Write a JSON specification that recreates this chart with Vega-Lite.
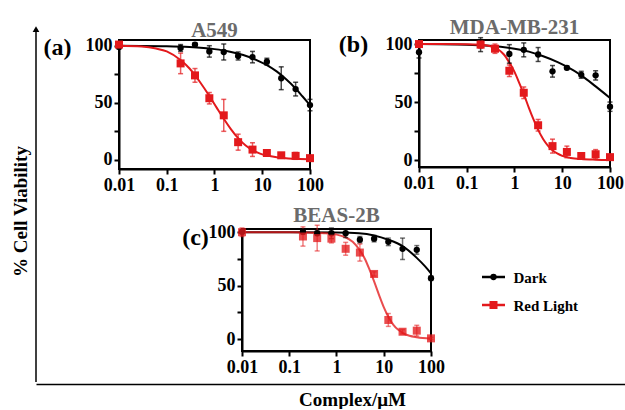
{
 "$schema": "https://vega.github.io/schema/vega-lite/v6.json",
 "padding": {"left": 11, "top": 16, "right": 0, "bottom": 0},
 "autosize": {"type": "pad"},
 "background": "white",
 "datasets": {
  "points": [
   {"cell":"A549","series":"Dark","conc":0.01,"v":99,"err":2},
   {"cell":"A549","series":"Dark","conc":0.195,"v":98,"err":3},
   {"cell":"A549","series":"Dark","conc":0.39,"v":101,"err":1.5},
   {"cell":"A549","series":"Dark","conc":0.78,"v":95,"err":5},
   {"cell":"A549","series":"Dark","conc":1.5625,"v":94.5,"err":7},
   {"cell":"A549","series":"Dark","conc":3.125,"v":91,"err":3.5},
   {"cell":"A549","series":"Dark","conc":6.25,"v":90,"err":5},
   {"cell":"A549","series":"Dark","conc":12.5,"v":86,"err":3},
   {"cell":"A549","series":"Dark","conc":25,"v":71.5,"err":10},
   {"cell":"A549","series":"Dark","conc":50,"v":62,"err":6},
   {"cell":"A549","series":"Dark","conc":100,"v":48,"err":5},
   {"cell":"A549","series":"Red Light","conc":0.01,"v":101,"err":1},
   {"cell":"A549","series":"Red Light","conc":0.195,"v":84.5,"err":9},
   {"cell":"A549","series":"Red Light","conc":0.39,"v":74,"err":6},
   {"cell":"A549","series":"Red Light","conc":0.78,"v":54,"err":5},
   {"cell":"A549","series":"Red Light","conc":1.5625,"v":39,"err":14},
   {"cell":"A549","series":"Red Light","conc":3.125,"v":15.5,"err":7},
   {"cell":"A549","series":"Red Light","conc":6.25,"v":9,"err":6},
   {"cell":"A549","series":"Red Light","conc":12.5,"v":6,"err":1.5},
   {"cell":"A549","series":"Red Light","conc":25,"v":4,"err":1.5},
   {"cell":"A549","series":"Red Light","conc":50,"v":3.5,"err":3},
   {"cell":"A549","series":"Red Light","conc":100,"v":1.5,"err":2},
   {"cell":"MDA","series":"Dark","conc":0.01,"v":93,"err":5},
   {"cell":"MDA","series":"Dark","conc":0.195,"v":99.5,"err":6},
   {"cell":"MDA","series":"Dark","conc":0.39,"v":96,"err":2},
   {"cell":"MDA","series":"Dark","conc":0.78,"v":91.5,"err":8},
   {"cell":"MDA","series":"Dark","conc":1.5625,"v":95,"err":6},
   {"cell":"MDA","series":"Dark","conc":3.125,"v":91,"err":6},
   {"cell":"MDA","series":"Dark","conc":6.25,"v":76.5,"err":5},
   {"cell":"MDA","series":"Dark","conc":12.5,"v":79.5,"err":1.5},
   {"cell":"MDA","series":"Dark","conc":25,"v":73.5,"err":3},
   {"cell":"MDA","series":"Dark","conc":50,"v":73,"err":4},
   {"cell":"MDA","series":"Dark","conc":100,"v":46,"err":4},
   {"cell":"MDA","series":"Red Light","conc":0.01,"v":100,"err":1},
   {"cell":"MDA","series":"Red Light","conc":0.195,"v":99.5,"err":3},
   {"cell":"MDA","series":"Red Light","conc":0.39,"v":96,"err":4},
   {"cell":"MDA","series":"Red Light","conc":0.78,"v":77,"err":5},
   {"cell":"MDA","series":"Red Light","conc":1.5625,"v":58,"err":5},
   {"cell":"MDA","series":"Red Light","conc":3.125,"v":30,"err":5},
   {"cell":"MDA","series":"Red Light","conc":6.25,"v":12,"err":6},
   {"cell":"MDA","series":"Red Light","conc":12.5,"v":7,"err":5},
   {"cell":"MDA","series":"Red Light","conc":25,"v":3.5,"err":2},
   {"cell":"MDA","series":"Red Light","conc":50,"v":5,"err":4},
   {"cell":"MDA","series":"Red Light","conc":100,"v":2.5,"err":1.5},
   {"cell":"BEAS","series":"Dark","conc":0.01,"v":100.5,"err":2},
   {"cell":"BEAS","series":"Dark","conc":0.195,"v":100.5,"err":2.5},
   {"cell":"BEAS","series":"Dark","conc":0.39,"v":99,"err":2},
   {"cell":"BEAS","series":"Dark","conc":0.78,"v":99,"err":5},
   {"cell":"BEAS","series":"Dark","conc":1.5625,"v":99,"err":4},
   {"cell":"BEAS","series":"Dark","conc":3.125,"v":93,"err":3},
   {"cell":"BEAS","series":"Dark","conc":6.25,"v":94,"err":3},
   {"cell":"BEAS","series":"Dark","conc":12.5,"v":91,"err":3.5},
   {"cell":"BEAS","series":"Dark","conc":25,"v":84.5,"err":10},
   {"cell":"BEAS","series":"Dark","conc":50,"v":83.5,"err":4},
   {"cell":"BEAS","series":"Dark","conc":100,"v":57,"err":2},
   {"cell":"BEAS","series":"Red Light","conc":0.01,"v":100,"err":4},
   {"cell":"BEAS","series":"Red Light","conc":0.195,"v":96,"err":9},
   {"cell":"BEAS","series":"Red Light","conc":0.39,"v":94.5,"err":12},
   {"cell":"BEAS","series":"Red Light","conc":0.78,"v":94,"err":4},
   {"cell":"BEAS","series":"Red Light","conc":1.5625,"v":84.5,"err":6},
   {"cell":"BEAS","series":"Red Light","conc":3.125,"v":81,"err":8},
   {"cell":"BEAS","series":"Red Light","conc":6.25,"v":61,"err":2},
   {"cell":"BEAS","series":"Red Light","conc":12.5,"v":18,"err":6},
   {"cell":"BEAS","series":"Red Light","conc":25,"v":7,"err":2},
   {"cell":"BEAS","series":"Red Light","conc":50,"v":8,"err":5},
   {"cell":"BEAS","series":"Red Light","conc":100,"v":0.8,"err":1}
  ],
  "curves": [
   {"cell":"A549","series":"Dark","conc":0.01,"v":100},
   {"cell":"A549","series":"Dark","conc":0.1,"v":99.6},
   {"cell":"A549","series":"Dark","conc":0.3,"v":98.9},
   {"cell":"A549","series":"Dark","conc":1,"v":97},
   {"cell":"A549","series":"Dark","conc":2,"v":95},
   {"cell":"A549","series":"Dark","conc":4,"v":91.8},
   {"cell":"A549","series":"Dark","conc":8,"v":87},
   {"cell":"A549","series":"Dark","conc":12.5,"v":83},
   {"cell":"A549","series":"Dark","conc":20,"v":77.5},
   {"cell":"A549","series":"Dark","conc":30,"v":71.5},
   {"cell":"A549","series":"Dark","conc":50,"v":62.5},
   {"cell":"A549","series":"Dark","conc":70,"v":55.5},
   {"cell":"A549","series":"Dark","conc":100,"v":48},
   {"cell":"A549","series":"Red Light","conc":0.01,"v":100},
   {"cell":"A549","series":"Red Light","conc":0.03,"v":99.3},
   {"cell":"A549","series":"Red Light","conc":0.06,"v":97.5},
   {"cell":"A549","series":"Red Light","conc":0.1,"v":95},
   {"cell":"A549","series":"Red Light","conc":0.2,"v":87},
   {"cell":"A549","series":"Red Light","conc":0.3,"v":80},
   {"cell":"A549","series":"Red Light","conc":0.5,"v":68},
   {"cell":"A549","series":"Red Light","conc":0.78,"v":56},
   {"cell":"A549","series":"Red Light","conc":1.1,"v":46},
   {"cell":"A549","series":"Red Light","conc":1.56,"v":36},
   {"cell":"A549","series":"Red Light","conc":2.2,"v":27},
   {"cell":"A549","series":"Red Light","conc":3.125,"v":19},
   {"cell":"A549","series":"Red Light","conc":4.5,"v":12.5},
   {"cell":"A549","series":"Red Light","conc":6.25,"v":8.5},
   {"cell":"A549","series":"Red Light","conc":9,"v":5.5},
   {"cell":"A549","series":"Red Light","conc":12.5,"v":3.8},
   {"cell":"A549","series":"Red Light","conc":20,"v":2.3},
   {"cell":"A549","series":"Red Light","conc":35,"v":1.3},
   {"cell":"A549","series":"Red Light","conc":60,"v":0.8},
   {"cell":"A549","series":"Red Light","conc":100,"v":0.5},
   {"cell":"MDA","series":"Dark","conc":0.01,"v":100},
   {"cell":"MDA","series":"Dark","conc":0.1,"v":99.5},
   {"cell":"MDA","series":"Dark","conc":0.3,"v":98.5},
   {"cell":"MDA","series":"Dark","conc":1,"v":96},
   {"cell":"MDA","series":"Dark","conc":2,"v":93.5},
   {"cell":"MDA","series":"Dark","conc":4,"v":89.5},
   {"cell":"MDA","series":"Dark","conc":8,"v":84.5},
   {"cell":"MDA","series":"Dark","conc":12.5,"v":80.5},
   {"cell":"MDA","series":"Dark","conc":25,"v":73},
   {"cell":"MDA","series":"Dark","conc":50,"v":63.5},
   {"cell":"MDA","series":"Dark","conc":100,"v":53.5},
   {"cell":"MDA","series":"Red Light","conc":0.01,"v":100},
   {"cell":"MDA","series":"Red Light","conc":0.1,"v":99.9},
   {"cell":"MDA","series":"Red Light","conc":0.2,"v":99.4},
   {"cell":"MDA","series":"Red Light","conc":0.3,"v":98.3},
   {"cell":"MDA","series":"Red Light","conc":0.45,"v":95.5},
   {"cell":"MDA","series":"Red Light","conc":0.6,"v":91},
   {"cell":"MDA","series":"Red Light","conc":0.78,"v":84},
   {"cell":"MDA","series":"Red Light","conc":1.0,"v":76},
   {"cell":"MDA","series":"Red Light","conc":1.3,"v":65},
   {"cell":"MDA","series":"Red Light","conc":1.56,"v":57},
   {"cell":"MDA","series":"Red Light","conc":2,"v":45},
   {"cell":"MDA","series":"Red Light","conc":2.5,"v":35},
   {"cell":"MDA","series":"Red Light","conc":3.125,"v":26},
   {"cell":"MDA","series":"Red Light","conc":4,"v":18},
   {"cell":"MDA","series":"Red Light","conc":5,"v":12.5},
   {"cell":"MDA","series":"Red Light","conc":6.25,"v":8.5},
   {"cell":"MDA","series":"Red Light","conc":8,"v":5.5},
   {"cell":"MDA","series":"Red Light","conc":10,"v":3.6},
   {"cell":"MDA","series":"Red Light","conc":15,"v":1.8},
   {"cell":"MDA","series":"Red Light","conc":25,"v":0.8},
   {"cell":"MDA","series":"Red Light","conc":50,"v":0.3},
   {"cell":"MDA","series":"Red Light","conc":100,"v":0.1},
   {"cell":"BEAS","series":"Dark","conc":0.01,"v":100},
   {"cell":"BEAS","series":"Dark","conc":0.1,"v":100},
   {"cell":"BEAS","series":"Dark","conc":1,"v":99.7},
   {"cell":"BEAS","series":"Dark","conc":3,"v":99},
   {"cell":"BEAS","series":"Dark","conc":6.25,"v":97},
   {"cell":"BEAS","series":"Dark","conc":12.5,"v":93},
   {"cell":"BEAS","series":"Dark","conc":25,"v":87},
   {"cell":"BEAS","series":"Dark","conc":50,"v":76},
   {"cell":"BEAS","series":"Dark","conc":75,"v":68},
   {"cell":"BEAS","series":"Dark","conc":100,"v":61.5},
   {"cell":"BEAS","series":"Red Light","conc":0.01,"v":100},
   {"cell":"BEAS","series":"Red Light","conc":0.1,"v":99.9},
   {"cell":"BEAS","series":"Red Light","conc":0.3,"v":99.6},
   {"cell":"BEAS","series":"Red Light","conc":0.6,"v":99},
   {"cell":"BEAS","series":"Red Light","conc":1,"v":97.8},
   {"cell":"BEAS","series":"Red Light","conc":1.5,"v":95.5},
   {"cell":"BEAS","series":"Red Light","conc":2.2,"v":91},
   {"cell":"BEAS","series":"Red Light","conc":3.125,"v":83},
   {"cell":"BEAS","series":"Red Light","conc":4,"v":75},
   {"cell":"BEAS","series":"Red Light","conc":5,"v":65},
   {"cell":"BEAS","series":"Red Light","conc":6.25,"v":54},
   {"cell":"BEAS","series":"Red Light","conc":8,"v":41},
   {"cell":"BEAS","series":"Red Light","conc":10,"v":30},
   {"cell":"BEAS","series":"Red Light","conc":12.5,"v":21},
   {"cell":"BEAS","series":"Red Light","conc":16,"v":13.5},
   {"cell":"BEAS","series":"Red Light","conc":20,"v":9},
   {"cell":"BEAS","series":"Red Light","conc":25,"v":6},
   {"cell":"BEAS","series":"Red Light","conc":35,"v":3.2},
   {"cell":"BEAS","series":"Red Light","conc":50,"v":1.8},
   {"cell":"BEAS","series":"Red Light","conc":100,"v":0.5}
  ]
 },
 "bounds": "flush",
 "spacing": 343,
 "vconcat": [
  {
   "bounds": "flush",
   "spacing": 82,
   "hconcat": [
    {
     "width": 1,
     "height": 342,
     "data": {"values": [{"y0": 0, "y1": 1.032}]},
     "encoding": {
      "x": {"datum": 0, "type": "quantitative", "scale": {"domain": [0, 1]}, "axis": null},
      "y": {"field": "y0", "type": "quantitative", "scale": {"domain": [0, 1], "nice": false},
            "axis": {"domain": false, "ticks": false, "labels": false, "title": "% Cell Viability", "titleFontSize": 19, "titlePadding": 6}}
     },
     "layer": [
      {"mark": {"type": "rule", "strokeWidth": 1.5, "color": "black"}, "encoding": {"y2": {"field": "y1"}}},
      {"mark": {"type": "point", "shape": "triangle-up", "filled": true, "color": "black", "size": 45, "opacity": 1},
       "encoding": {"y": {"field": "y1", "type": "quantitative"}}}
     ]
    },
    {
     "bounds": "flush",
     "spacing": 189,
     "vconcat": [
      {
       "bounds": "flush",
       "spacing": 109,
       "hconcat": [
        {
         "width": 191, "height": 129,
         "view": {"stroke": "black", "strokeWidth": 2},
         "title": {"text": "A549", "offset": -6},
         "encoding": {
          "x": {"field": "conc", "type": "quantitative", "scale": {"type": "log", "domain": [0.01, 100], "nice": false}, "axis": {"values": [0.01, 0.1, 1, 10, 100], "format": "~g", "title": null}},
          "y": {"field": "v", "type": "quantitative", "scale": {"domain": [-8, 105], "nice": false, "zero": false}, "axis": {"values": [0, 25, 50, 75, 100], "labelExpr": "datum.value % 50 === 0 ? datum.label : ''", "title": "(a)", "titleX": -62, "titleY": 7, "titleAngle": 0, "titleAlign": "center", "titleBaseline": "middle", "titleFontSize": 24}},
          "color": {"field": "series", "type": "nominal", "scale": {"domain": ["Dark", "Red Light"], "range": ["#000000", "#e3191c"]}, "legend": null}
         },
         "layer": [
          {"data": {"name": "curves"}, "transform": [{"filter": "datum.cell === 'A549'"}], "mark": {"type": "line", "interpolate": "monotone", "strokeWidth": 2}},
          {"data": {"name": "points"}, "transform": [{"filter": "datum.cell === 'A549'"}], "mark": {"type": "errorbar", "ticks": true, "thickness": 1.5, "opacity": 0.7}, "encoding": {"yError": {"field": "err"}}},
          {"data": {"name": "points"}, "transform": [{"filter": "datum.cell === 'A549'"}], "mark": {"type": "point", "filled": true, "opacity": 1},
           "encoding": {"shape": {"field": "series", "type": "nominal", "scale": {"domain": ["Dark", "Red Light"], "range": ["circle", "square"]}, "legend": null},
                        "size": {"field": "series", "type": "nominal", "scale": {"domain": ["Dark", "Red Light"], "range": [40, 64]}, "legend": null}}}
         ]
        },
        {
         "width": 191, "height": 127,
         "view": {"stroke": "black", "strokeWidth": 2},
         "title": {"text": "MDA-MB-231", "offset": -6},
         "encoding": {
          "x": {"field": "conc", "type": "quantitative", "scale": {"type": "log", "domain": [0.01, 100], "nice": false}, "axis": {"values": [0.01, 0.1, 1, 10, 100], "format": "~g", "title": null}},
          "y": {"field": "v", "type": "quantitative", "scale": {"domain": [-6, 103.5], "nice": false, "zero": false}, "axis": {"values": [0, 25, 50, 75, 100], "labelExpr": "datum.value % 50 === 0 ? datum.label : ''", "title": "(b)", "titleX": -66, "titleY": 4, "titleAngle": 0, "titleAlign": "center", "titleBaseline": "middle", "titleFontSize": 24}},
          "color": {"field": "series", "type": "nominal", "scale": {"domain": ["Dark", "Red Light"], "range": ["#000000", "#e3191c"]}, "legend": null}
         },
         "layer": [
          {"data": {"name": "curves"}, "transform": [{"filter": "datum.cell === 'MDA'"}], "mark": {"type": "line", "interpolate": "monotone", "strokeWidth": 2}},
          {"data": {"name": "points"}, "transform": [{"filter": "datum.cell === 'MDA'"}], "mark": {"type": "errorbar", "ticks": true, "thickness": 1.5, "opacity": 0.7}, "encoding": {"yError": {"field": "err"}}},
          {"data": {"name": "points"}, "transform": [{"filter": "datum.cell === 'MDA'"}], "mark": {"type": "point", "filled": true, "opacity": 1},
           "encoding": {"shape": {"field": "series", "type": "nominal", "scale": {"domain": ["Dark", "Red Light"], "range": ["circle", "square"]}, "legend": null},
                        "size": {"field": "series", "type": "nominal", "scale": {"domain": ["Dark", "Red Light"], "range": [40, 64]}, "legend": null}}}
         ]
        }
       ]
      },
      {
       "bounds": "flush",
       "spacing": 51,
       "hconcat": [
        {"width": 72, "height": 10, "data": {"values": []}, "mark": {"type": "point", "opacity": 0}, "encoding": {}},
        {
         "width": 189, "height": 122,
         "view": {"stroke": "black", "strokeWidth": 2},
         "title": {"text": "BEAS-2B", "offset": -3},
         "encoding": {
          "x": {"field": "conc", "type": "quantitative", "scale": {"type": "log", "domain": [0.01, 100], "nice": false}, "axis": {"values": [0.01, 0.1, 1, 10, 100], "format": "~g", "title": null}},
          "y": {"field": "v", "type": "quantitative", "scale": {"domain": [-11, 103], "nice": false, "zero": false}, "axis": {"values": [0, 25, 50, 75, 100], "labelExpr": "datum.value % 50 === 0 ? datum.label : ''", "title": "(c)", "titleX": -47, "titleY": 8, "titleAngle": 0, "titleAlign": "center", "titleBaseline": "middle", "titleFontSize": 24}},
          "color": {"field": "series", "type": "nominal", "scale": {"domain": ["Dark", "Red Light"], "range": ["#000000", "#e3191c"]}, "legend": null},
          "opacity": {"condition": {"test": "datum.series === 'Red Light'", "value": 0.78}, "value": 1}
         },
         "layer": [
          {"data": {"name": "curves"}, "transform": [{"filter": "datum.cell === 'BEAS'"}], "mark": {"type": "line", "interpolate": "monotone", "strokeWidth": 2}},
          {"data": {"name": "points"}, "transform": [{"filter": "datum.cell === 'BEAS'"}], "mark": {"type": "errorbar", "ticks": true, "thickness": 1.5, "opacity": 0.55}, "encoding": {"yError": {"field": "err"}, "opacity": {"value": 0.55}}},
          {"data": {"name": "points"}, "transform": [{"filter": "datum.cell === 'BEAS'"}], "mark": {"type": "point", "filled": true},
           "encoding": {"shape": {"field": "series", "type": "nominal", "scale": {"domain": ["Dark", "Red Light"], "range": ["circle", "square"]}, "legend": null},
                        "size": {"field": "series", "type": "nominal", "scale": {"domain": ["Dark", "Red Light"], "range": [40, 64]}, "legend": null}}}
         ]
        },
        {
         "width": 23, "height": 124,
         "data": {"values": [{"series": "Dark"}, {"series": "Red Light"}]},
         "encoding": {
          "y": {"field": "series", "type": "nominal", "scale": {"type": "point", "range": [48, 76], "padding": 0, "domain": ["Dark", "Red Light"]},
                "axis": {"orient": "right", "domain": false, "ticks": false, "labelFontSize": 15, "labelPadding": 8, "title": null, "labelAlign": "left", "labelBaseline": "middle"}},
          "color": {"field": "series", "type": "nominal", "scale": {"domain": ["Dark", "Red Light"], "range": ["#000000", "#e3191c"]}, "legend": null}
         },
         "layer": [
          {"mark": {"type": "rule", "strokeWidth": 2.5}, "encoding": {"x": {"datum": 0, "type": "quantitative", "scale": {"domain": [0, 1]}, "axis": null}, "x2": {"datum": 1}}},
          {"mark": {"type": "point", "filled": true, "opacity": 1}, "encoding": {"x": {"datum": 0.5, "type": "quantitative"},
            "shape": {"field": "series", "type": "nominal", "scale": {"domain": ["Dark", "Red Light"], "range": ["circle", "square"]}, "legend": null},
            "size": {"field": "series", "type": "nominal", "scale": {"domain": ["Dark", "Red Light"], "range": [50, 70]}, "legend": null}}}
         ]
        }
       ]
      }
     ]
    }
   ]
  },
  {
   "width": 589, "height": 1,
   "data": {"values": [{"x": 0}]},
   "mark": {"type": "point", "opacity": 0},
   "encoding": {"x": {"field": "x", "type": "quantitative", "scale": {"domain": [0, 1]},
     "axis": {"domainWidth": 1.5, "ticks": false, "labels": false, "title": "Complex/μM", "titleFontSize": 19, "titlePadding": 6, "titleX": 316}}}
  }
 ],
 "config": {
  "font": "Liberation Serif",
  "view": {"stroke": null},
  "axis": {"grid": false, "domainColor": "black", "domainWidth": 2, "tickColor": "black", "tickWidth": 2, "tickSize": 5,
           "labelFont": "Liberation Serif", "labelFontWeight": "bold", "labelFontSize": 18, "labelColor": "black",
           "labelFlush": false, "labelOverlap": false, "labelPadding": 2,
           "titleFont": "Liberation Serif", "titleFontWeight": "bold", "titleColor": "black"},
  "title": {"font": "Liberation Serif", "fontWeight": "bold", "fontSize": 21, "color": "#6b6b6b", "offset": 5}
 }
}
